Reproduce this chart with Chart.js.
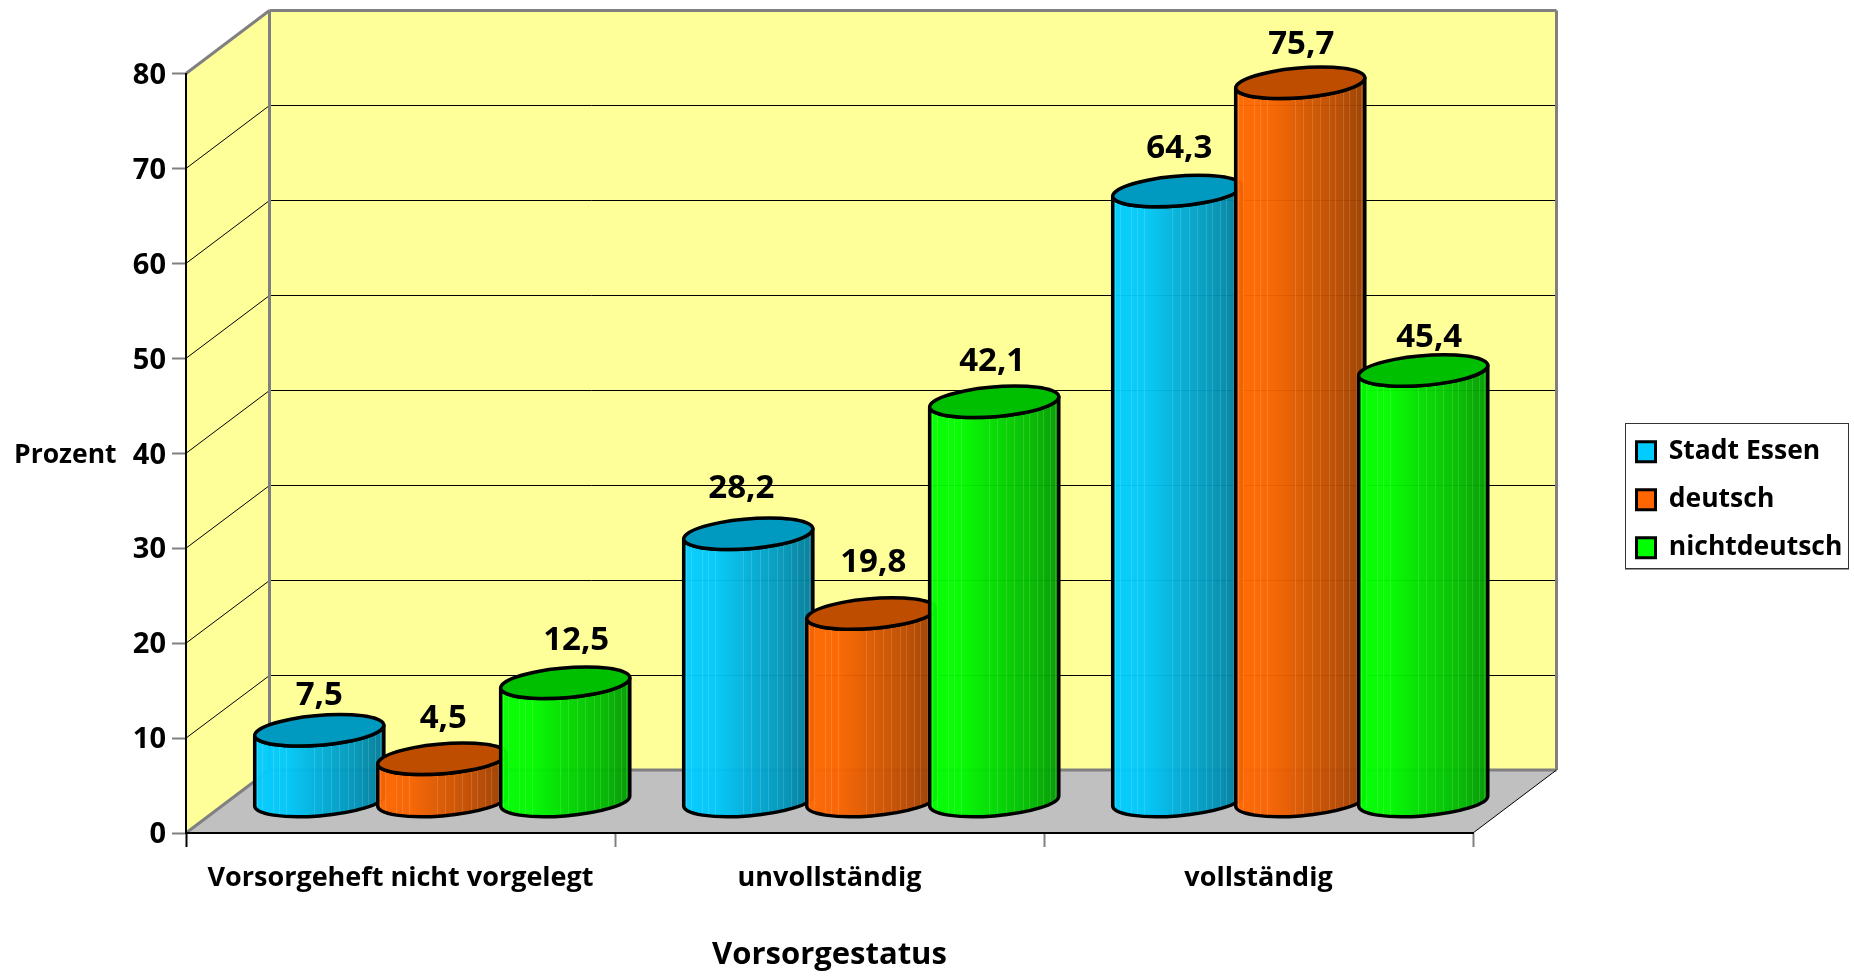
<!DOCTYPE html>
<html lang="de">
<head>
<meta charset="utf-8">
<title>Vorsorgestatus</title>
<script src="https://cdn.jsdelivr.net/npm/chart.js@4"></script>
<style>
    html, body { margin: 0; padding: 0; background: #fff; }
    canvas { display: block; }
</style>
</head>
<body>
<canvas id="vorsorgeChart" width="1854" height="976"></canvas>
<script>
// Data
const categories = ['Vorsorgeheft nicht vorgelegt', 'unvollständig', 'vollständig'];
const stadtEssen = [7.5, 28.2, 64.3];
const deutsch = [4.5, 19.8, 75.7];
const nichtdeutsch = [12.5, 42.1, 45.4];
const seriesNames = ['Stadt Essen', 'deutsch', 'nichtdeutsch'];
const seriesColors = [[0, 204, 255], [255, 102, 0], [0, 255, 0]];
const yTicksMax = 80;
const yTicksStep = 10;
const yTitle = 'Prozent';
const xTitle = 'Vorsorgestatus';

const FONT = '"Open Sans"';
const depthX = 83.5;
const depthY = 63;
const wallColor = '#FFFF99';
const floorColor = '#C0C0C0';
const edgeColor = '#808080';

// shading of the cylinder side: [position, brightness]
const shadeStops = [[0, 1], [0.25, 0.98], [0.5, 0.86], [0.8, 0.72], [1, 0.6]];
const stripes = [0.02, 0.06, 0.14, 0.19, 0.24, 0.46, 0.52, 0.59, 0.65, 0.72, 0.77, 0.83, 0.88, 0.93, 0.97];

// the value labels were placed by hand in the original, [dx, dy] per series and category
const labelNudge = [
    [[0, 5], [-7, -5], [2, -2]],
    [[1, 0], [2, -11], [1, 2]],
    [[11, -2], [-2, 0], [6, 7]]
];

function rgb(c, f) {
    return 'rgb(' + c.map(v => Math.round(v * f)).join(',') + ')';
}

function line(ctx, x1, y1, x2, y2, color, width) {
    ctx.strokeStyle = color;
    ctx.lineWidth = width;
    ctx.beginPath();
    ctx.moveTo(x1, y1);
    ctx.lineTo(x2, y2);
    ctx.stroke();
}

function poly(ctx, pts, color) {
    ctx.fillStyle = color;
    ctx.beginPath();
    pts.forEach((p, i) => i ? ctx.lineTo(p[0], p[1]) : ctx.moveTo(p[0], p[1]));
    ctx.closePath();
    ctx.fill();
}

// Walls and floor
function drawRoom(chart) {
    const ctx = chart.ctx;
    const a = chart.chartArea;
    const y = chart.scales.y;
    const bl = a.left + depthX, br = a.right + depthX;

    ctx.save();
    poly(ctx, [[a.left, a.top], [bl, a.top - depthY], [bl, a.bottom - depthY], [a.left, a.bottom]], wallColor);
    poly(ctx, [[bl, a.top - depthY], [br, a.top - depthY], [br, a.bottom - depthY], [bl, a.bottom - depthY]], wallColor);
    poly(ctx, [[a.left, a.bottom], [bl, a.bottom - depthY], [br, a.bottom - depthY], [a.right, a.bottom]], floorColor);

    for (let v = yTicksStep; v < yTicksMax; v += yTicksStep) {
        const py = y.getPixelForValue(v);
        const backY = Math.round(py - depthY) + 0.5;
        line(ctx, a.left, py, bl, backY, '#000', 1);
        line(ctx, bl, backY, br, backY, '#000', 1);
    }

    line(ctx, a.left, a.top, bl, a.top - depthY, edgeColor, 3);
    line(ctx, bl, a.top - depthY, br, a.top - depthY, edgeColor, 3);
    line(ctx, bl, a.top - depthY, bl, a.bottom - depthY, edgeColor, 3);
    line(ctx, br, a.top - depthY, br, a.bottom - depthY, edgeColor, 3);
    line(ctx, bl, a.bottom - depthY, br, a.bottom - depthY, edgeColor, 3);
    line(ctx, a.left, a.bottom, bl, a.bottom - depthY, edgeColor, 3);
    line(ctx, a.right, a.bottom, br, a.bottom - depthY, '#000', 1);

    // legend frame
    ctx.fillStyle = '#fff';
    ctx.fillRect(1625.5, 423.5, 223, 145);
    ctx.strokeStyle = '#333';
    ctx.lineWidth = 1;
    ctx.strokeRect(1625.5, 423.5, 223, 145);
    line(ctx, 1625, 569.5, 1849, 569.5, '#999', 1);

    // y axis title stays horizontal
    ctx.fillStyle = '#000';
    ctx.font = 'bold 26.5px ' + FONT;
    ctx.textAlign = 'left';
    ctx.textBaseline = 'middle';
    ctx.fillText(yTitle, 14, (a.top + a.bottom) / 2 + 2);
    ctx.restore();
}

// One cylinder, taken from a bar element
function drawCylinder(ctx, bar, color) {
    const p = depthX / 4, q = depthY / 4;
    const R = bar.width / 2 * 1.05;
    const r = Math.sqrt(R * R - p * p);
    const t0 = Math.atan2(p, r);
    const cx = bar.x + depthX / 2;
    const topY = bar.y - depthY / 2;
    const baseY = bar.base - depthY / 2;
    const off = q * Math.sin(t0);

    const unitArc = (cy, from, to, ccw) => {
        ctx.save();
        ctx.transform(r, 0, p, -q, cx, cy);
        ctx.arc(0, 0, 1, from, to, ccw);
        ctx.restore();
    };
    const sidePath = () => {
        ctx.beginPath();
        ctx.moveTo(cx + R, topY - off);
        ctx.lineTo(cx + R, baseY - off);
        unitArc(baseY, t0, t0 - Math.PI, true);
        ctx.lineTo(cx - R, topY + off);
        unitArc(topY, t0 - Math.PI, t0, false);
        ctx.closePath();
    };

    ctx.save();
    const grad = ctx.createLinearGradient(cx - R, 0, cx + R, 0);
    shadeStops.forEach(s => grad.addColorStop(s[0], rgb(color, s[1])));
    sidePath();
    ctx.globalAlpha = 0.96;
    ctx.fillStyle = grad;
    ctx.fill();
    ctx.globalAlpha = 1;

    ctx.save();
    sidePath();
    ctx.clip();
    stripes.forEach(s => {
        const sx = Math.round(cx - R + s * 2 * R) + 0.5;
        line(ctx, sx, topY - q - 2, sx, baseY + q + 2, 'rgba(255,255,255,0.14)', 1);
    });
    ctx.restore();

    sidePath();
    ctx.strokeStyle = '#000';
    ctx.lineWidth = 3.5;
    ctx.lineJoin = 'round';
    ctx.stroke();

    ctx.beginPath();
    unitArc(topY, 0, Math.PI * 2, false);
    ctx.closePath();
    ctx.fillStyle = rgb(color, 0.75);
    ctx.fill();
    ctx.stroke();
    ctx.restore();
}

const cylinderPlugin = {
    id: 'cylinders',
    beforeLayout(chart) {
        // legend takes the room right of the floor, it is moved in afterLayout
        const legend = chart.legend;
        if (legend && !legend._wrapped) {
            const fit = legend.fit;
            legend.fit = function () {
                fit.call(this);
                this.width = 381;
            };
            legend._wrapped = true;
        }
    },
    afterLayout(chart) {
        const legend = chart.legend;
        legend.left = 1615;
        legend.right = 1848;
        legend.top = 417;
        legend.bottom = 640;
    },
    beforeDraw(chart) {
        drawRoom(chart);
    },
    beforeDatasetDraw() {
        return false;
    },
    afterDatasetsDraw(chart) {
        const ctx = chart.ctx;
        chart.data.datasets.forEach((ds, i) => {
            chart.getDatasetMeta(i).data.forEach(bar => drawCylinder(ctx, bar, seriesColors[i]));
        });
        ctx.save();
        ctx.fillStyle = '#000';
        ctx.font = 'bold 33px ' + FONT;
        ctx.textAlign = 'center';
        ctx.textBaseline = 'middle';
        chart.data.datasets.forEach((ds, i) => {
            chart.getDatasetMeta(i).data.forEach((bar, j) => {
                const label = String(ds.data[j]).replace('.', ',');
                const n = labelNudge[i][j];
                ctx.fillText(label, bar.x + depthX / 2 + n[0], bar.y - depthY / 2 - 40 + n[1]);
            });
        });
        ctx.restore();
    }
};

new Chart(document.getElementById('vorsorgeChart').getContext('2d'), {
    type: 'bar',
    data: {
        labels: categories,
        datasets: [
            { label: seriesNames[0], data: stadtEssen, backgroundColor: rgb(seriesColors[0], 1), borderColor: '#000', borderWidth: 3 },
            { label: seriesNames[1], data: deutsch, backgroundColor: rgb(seriesColors[1], 1), borderColor: '#000', borderWidth: 3 },
            { label: seriesNames[2], data: nichtdeutsch, backgroundColor: rgb(seriesColors[2], 1), borderColor: '#000', borderWidth: 3 }
        ]
    },
    options: {
        responsive: false,
        animation: false,
        events: [],
        layout: { padding: { top: 73.5 } },
        categoryPercentage: 0.86,
        barPercentage: 1,
        scales: {
            x: {
                grid: {
                    drawOnChartArea: false,
                    tickLength: 14,
                    tickWidth: 2,
                    tickColor: ctx => ctx.index === 0 || ctx.index === 3 ? '#000' : edgeColor
                },
                border: { color: '#000', width: 2 },
                ticks: {
                    color: '#000',
                    padding: 15,
                    maxRotation: 0,
                    font: { family: FONT, size: 27, weight: 'bold' }
                },
                title: {
                    display: true,
                    text: xTitle,
                    color: '#000',
                    padding: { top: 0, bottom: 2 },
                    font: { family: FONT, size: 31, weight: 'bold' }
                },
                afterFit(scale) { scale.height = 143; }
            },
            y: {
                min: 0,
                max: yTicksMax,
                grid: {
                    drawOnChartArea: false,
                    tickLength: 14,
                    tickWidth: 2,
                    tickColor: edgeColor
                },
                border: { color: '#000', width: 2 },
                ticks: {
                    stepSize: yTicksStep,
                    color: '#000',
                    padding: 6,
                    labelOffset: 2,
                    font: { family: FONT, size: 29, weight: 'bold' }
                },
                afterFit(scale) { scale.width = 186; }
            }
        },
        plugins: {
            legend: {
                position: 'right',
                align: 'start',
                labels: {
                    color: '#000',
                    boxWidth: 19,
                    boxHeight: 20,
                    padding: 21.5,
                    font: { family: FONT, size: 26.5, weight: 'bold' }
                }
            },
            title: { display: false },
            tooltip: { enabled: false }
        }
    },
    plugins: [cylinderPlugin]
});
</script>
</body>
</html>
